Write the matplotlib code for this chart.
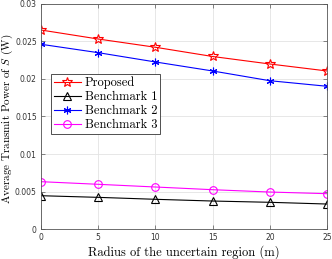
import matplotlib
matplotlib.use("Agg")
import matplotlib.pyplot as plt
import numpy as np

radius = [0, 5, 10, 15, 20, 25]
proposed = [0.02653, 0.02533, 0.02423, 0.02300, 0.02200, 0.02107]
bench1 = [0.00444, 0.00422, 0.00396, 0.00373, 0.00356, 0.00333]
bench2 = [0.02463, 0.02351, 0.02227, 0.02107, 0.01977, 0.01903]
bench3 = [0.00631, 0.00596, 0.00560, 0.00524, 0.00493, 0.00471]
xticks = [0, 5, 10, 15, 20, 25]
yticks = [0, 0.005, 0.01, 0.015, 0.02, 0.025, 0.03]
yticklabels = ["0", "0.005", "0.01", "0.015", "0.02", "0.025", "0.03"]

plt.rcParams['mathtext.fontset'] = 'cm'
serif = ['cmr10', 'DejaVu Serif']

fig = plt.figure(figsize=(3.32, 2.59), dpi=100)
ax = fig.add_axes([0.1235, 0.1158, 0.8615, 0.8688])

lw = 0.8
ax.plot(radius, proposed, color='red', marker='*', ms=7, mfc='none', mew=0.8, lw=lw, label='Proposed')
ax.plot(radius, bench1, color='black', marker='^', ms=5.5, mfc='none', mew=0.8, lw=lw, label='Benchmark 1')
ax.plot(radius, bench2, color='blue', marker=(6, 2, 0), ms=5.5, mew=0.8, lw=lw, label='Benchmark 2')
ax.plot(radius, bench3, color='magenta', marker='o', ms=5.5, mfc='none', mew=0.8, lw=lw, label='Benchmark 3')

ax.set_xlim(0, 25)
ax.set_ylim(0, 0.03)
ax.set_xticks(xticks)
ax.set_yticks(yticks)
ax.set_yticklabels(yticklabels)
ax.grid(True, color='#e3e3e3', lw=0.6)
ax.set_axisbelow(True)
for s in ax.spines.values():
    s.set_color('#555555')
    s.set_linewidth(0.6)
ax.tick_params(direction='in', length=3, width=0.5, colors='#555555', labelcolor='#333333',
               labelsize=5.5, top=True, right=True, pad=3)

ax.set_xlabel('Radius of the uncertain region (m)', fontsize=9, family=serif)
ax.set_ylabel('Average Transmit Power of $S$ (W)', fontsize=8, family=serif)
ax.xaxis.set_label_coords(0.5, -0.07)
ax.yaxis.set_label_coords(-0.09, 0.49)

leg = ax.legend(loc='upper left', bbox_to_anchor=(0.035, 0.689), fancybox=False,
                edgecolor='#333333', framealpha=1, prop={'family': serif, 'size': 9},
                handlelength=2.2, handletextpad=0.3, borderpad=0.2, labelspacing=0.15,
                borderaxespad=0)
leg.get_frame().set_linewidth(0.6)

fig.savefig('out.png', dpi=100)
